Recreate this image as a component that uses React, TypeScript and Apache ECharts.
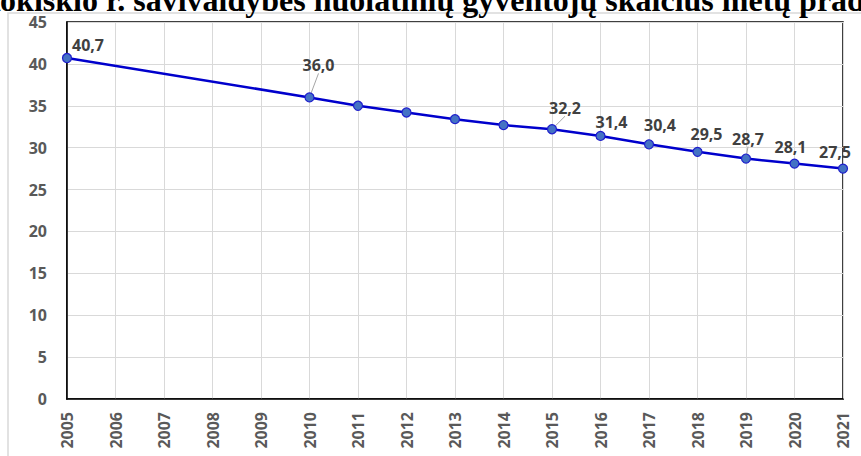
import React, { useEffect, useRef } from "react";
import * as echarts from "echarts";

const years = ["2005","2006","2007","2008","2009","2010","2011","2012","2013","2014","2015","2016","2017","2018","2019","2020","2021"];
const population: (number | null)[] = [40.7, null, null, null, null, 36.0, 35.0, 34.2, 33.4, 32.7, 32.2, 31.4, 30.4, 29.5, 28.7, 28.1, 27.5];
const showLabel = [true, false, false, false, false, true, false, false, false, false, true, true, true, true, true, true, true];
const labelOffsets: [number, number][] = [
  [21, -13], [0, 0], [0, 0], [0, 0], [0, 0], [9, -32], [0, 0], [0, 0], [0, 0], [0, 0],
  [13, -21], [11, -14], [11, -19], [9, -18], [2, -20], [-4, -17], [-8, -17],
];
const leader = [false, false, false, false, false, true, false, false, false, false, true, false, false, false, true, false, false];
const yTicks = { min: 0, max: 45, interval: 5 };
const title = "Rokiškio r. savivaldybės nuolatinių gyventojų skaičius metų pradžioje";

export default function App() {
  const ref = useRef<HTMLDivElement>(null);
  useEffect(() => {
    const chart = echarts.init(ref.current!, null, { renderer: "svg" });
    const labelFont = { fontFamily: "Open Sans", fontWeight: "bold" as const, fontSize: 16, color: "#404040" };
    chart.setOption({
      animation: false,
      backgroundColor: "#fff",
      grid: { left: 67, right: 18, top: 22, bottom: 57, show: true, borderColor: "#000", borderWidth: 1.5 },
      graphic: [
        { type: "rect", shape: { x: 8, y: 13, width: 900, height: 500 }, style: { fill: "none", stroke: "#d9d9d9", lineWidth: 1.5 }, z: -1 },
        { type: "text", x: -23, y: -16, style: { text: title, font: "bold 32px 'Liberation Serif'", fill: "#000" }, z: 10 },
      ],
      xAxis: {
        type: "category",
        data: years,
        boundaryGap: false,
        axisLine: { lineStyle: { color: "#000", width: 1.5 } },
        axisTick: { show: false },
        splitLine: { show: true, interval: 0, lineStyle: { color: "#d9d9d9", width: 1 } },
        axisLabel: { interval: 0, rotate: 90, margin: 13, ...labelFont, color: "#595959" },
      },
      yAxis: {
        type: "value",
        ...yTicks,
        axisLine: { show: true, lineStyle: { color: "#000", width: 1.5 } },
        axisTick: { show: false },
        splitLine: { lineStyle: { color: "#d9d9d9", width: 1 } },
        axisLabel: { margin: 20, ...labelFont, color: "#595959" },
      },
      series: [
        {
          type: "line",
          connectNulls: true,
          data: population.map((v, i) => ({
            value: v,
            label: { show: showLabel[i] },
            labelLine: { show: leader[i], lineStyle: { color: "#a6a6a6", width: 1 } },
          })),
          lineStyle: { color: "#0000cc", width: 2.5 },
          symbol: "circle",
          symbolSize: 9,
          itemStyle: { color: "#4472c4", borderColor: "#1f1fcc", borderWidth: 1.2 },
          label: {
            show: true,
            position: "inside",
            formatter: (p: any) => Number(p.value).toFixed(1).replace(".", ","),
            ...labelFont,
          },
          labelLayout: (p: any) => {
            const o = labelOffsets[p.dataIndex] || [0, 0];
            return { dx: o[0], dy: o[1] };
          },
          z: 5,
        },
      ],
    });
    return () => chart.dispose();
  }, []);
  return <div ref={ref} style={{ width: 861, height: 456, position: "absolute", left: 0, top: 0 }} />;
}
